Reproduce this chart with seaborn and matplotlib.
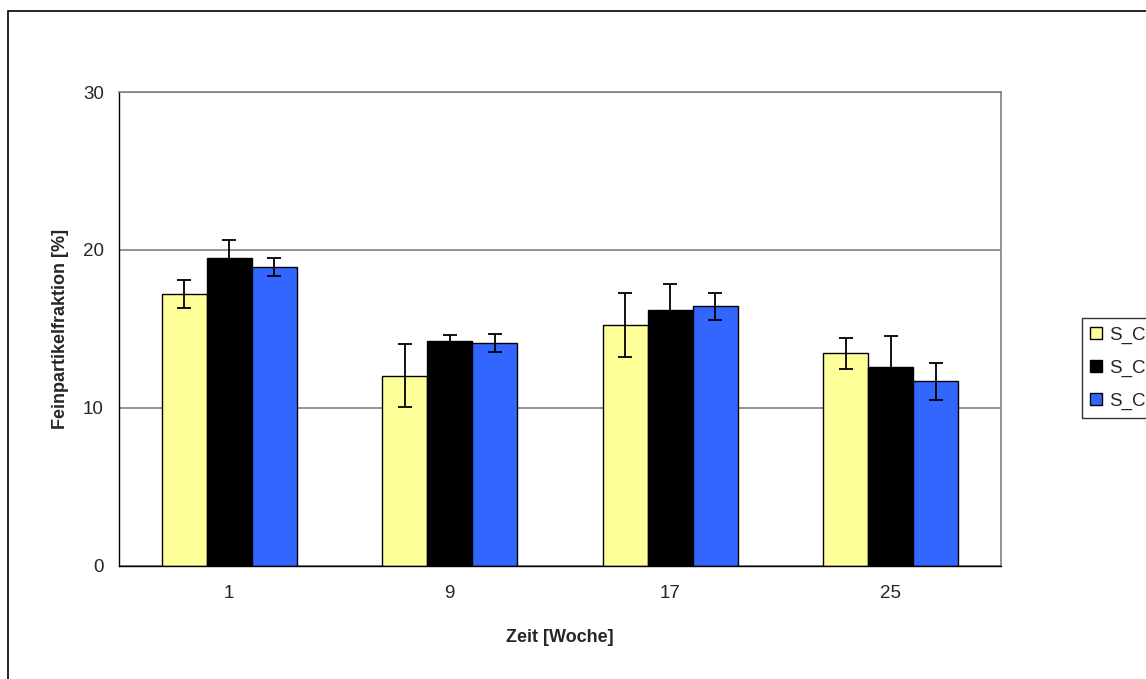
import pandas as pd
import matplotlib
matplotlib.use('Agg')
import matplotlib.pyplot as plt
import matplotlib.patches as mpatches
import seaborn as sns

# Data
weeks = ['1', '9', '17', '25']
series = ['S_C1', 'S_C2', 'S_C3']
means_c1 = [17.2, 12.05, 15.25, 13.45]
means_c2 = [19.5, 14.25, 16.2, 12.6]
means_c3 = [18.9, 14.1, 16.45, 11.7]
err_c1 = [0.9, 2.0, 2.05, 0.98]
err_c2 = [1.14, 0.34, 1.67, 1.94]
err_c3 = [0.57, 0.58, 0.85, 1.17]
colors = ['#FFFF99', '#000000', '#3366FF']

df = pd.DataFrame({
    'Zeit': weeks * 3,
    'Serie': [s for s in series for _ in weeks],
    'Wert': means_c1 + means_c2 + means_c3,
    'Fehler': err_c1 + err_c2 + err_c3,
})

sns.set_style('white')
plt.rcParams['font.family'] = ['Liberation Sans', 'DejaVu Sans']

fig = plt.figure(figsize=(11.46, 6.79), dpi=100)
ax = fig.add_axes([119 / 1146, 1 - 566 / 679, 882 / 1146, 474 / 679])

sns.barplot(data=df, x='Zeit', y='Wert', hue='Serie', palette=colors,
            width=0.61, gap=0, errorbar=None, edgecolor='black',
            linewidth=1, saturation=1, ax=ax)

# error bars on top of each bar
for cont, s in zip(ax.containers, series):
    errs = df.loc[df['Serie'] == s, 'Fehler'].values
    for bar, e in zip(cont, errs):
        xc = bar.get_x() + bar.get_width() / 2
        ax.errorbar(xc, bar.get_height(), yerr=e, fmt='none', ecolor='black',
                    elinewidth=1.3, capsize=5, capthick=1.3, zorder=5)

ax.set_ylim(0, 30)
ax.set_xlim(-0.5, 3.5)
ax.set_yticks([0, 10, 20, 30])
ax.yaxis.grid(True, color='#808080', linewidth=1.2)
ax.set_axisbelow(True)

ax.set_xticks([-0.5, 0.5, 1.5, 2.5, 3.5], minor=True)
ax.tick_params(axis='x', which='major', length=0, pad=14, labelsize=13.5)
ax.tick_params(axis='x', which='minor', length=5, width=1, color='black', direction='out')
ax.tick_params(axis='y', length=5, width=1, color='black', direction='out', labelsize=13.5, pad=6)

for side in ['top', 'right']:
    ax.spines[side].set_color('#808080')
    ax.spines[side].set_linewidth(1.2)
for side in ['left', 'bottom']:
    ax.spines[side].set_color('black')
    ax.spines[side].set_linewidth(1)

ax.set_xlabel('Zeit [Woche]', fontsize=13, fontweight='bold', labelpad=19)
ax.set_ylabel('Feinpartikelfraktion [%]', fontsize=13, fontweight='bold', labelpad=10)

handles, labels = ax.get_legend_handles_labels()
ax.get_legend().remove()
leg = fig.legend(handles, labels, loc='upper left',
                 bbox_to_anchor=(1082 / 1146, 1 - 318 / 679),
                 frameon=True, fancybox=False, edgecolor='black',
                 fontsize=13.5, handlelength=0.6, handleheight=0.6,
                 handletextpad=0.4, labelspacing=0.85, borderpad=0.45,
                 borderaxespad=0)
leg.get_frame().set_linewidth(1)

# outer chart border
fig.patches.append(mpatches.Rectangle((8 / 1146, -0.1), 1.2, 1.1 - 11 / 679,
                                      transform=fig.transFigure, fill=False,
                                      edgecolor='black', linewidth=1.2))

fig.savefig('out.png', dpi=100)
